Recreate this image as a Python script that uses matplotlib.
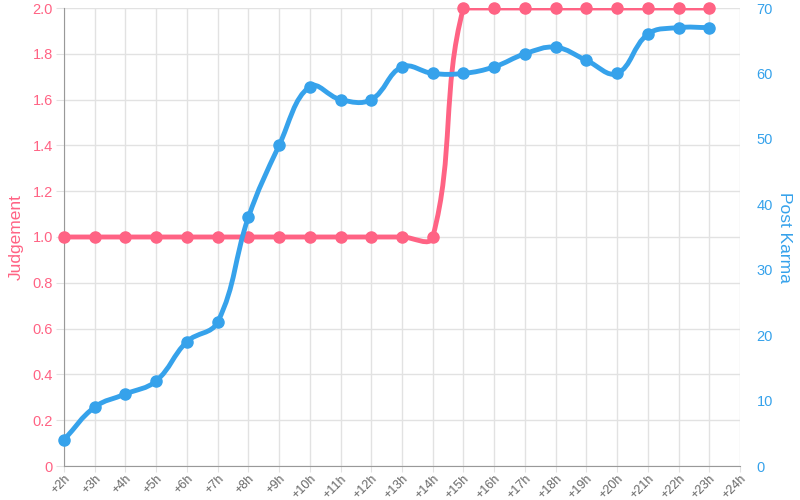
import numpy as np
import matplotlib.pyplot as plt
from matplotlib.path import Path
from matplotlib.patches import PathPatch

plt.rcParams['font.family'] = ['Liberation Sans', 'DejaVu Sans']

# data
hours = ['+%dh' % h for h in range(2, 25)]
judgement = [1, 1, 1, 1, 1, 1, 1, 1, 1, 1, 1, 1, 1, 2, 2, 2, 2, 2, 2, 2, 2, 2]
karma = [4, 9, 11, 13, 19, 22, 38, 49, 58, 56, 56, 61, 60, 60, 61, 63, 64, 62, 60, 66, 67, 67]

PINK = '#FF6384'
BLUE = '#36A2EB'


def spline_path(xs, ys, sx, sy, ylim, tension=0.4):
    # chart.js style bezier, control points computed in pixel space
    n = len(xs)
    px = np.array(xs, float) * sx
    py = np.array(ys, float) * sy
    prev_cp, next_cp = [], []
    for i in range(n):
        a = max(i - 1, 0)
        b = min(i + 1, n - 1)
        d01 = np.hypot(px[i] - px[a], py[i] - py[a])
        d12 = np.hypot(px[b] - px[i], py[b] - py[i])
        tot = d01 + d12 if d01 + d12 else 1
        fa = tension * d01 / tot
        fb = tension * d12 / tot
        dx, dy = px[b] - px[a], py[b] - py[a]
        prev_cp.append((px[i] - fa * dx, py[i] - fa * dy))
        next_cp.append((px[i] + fb * dx, py[i] + fb * dy))
    lo, hi = ylim[0] * sy, ylim[1] * sy
    verts = [(px[0], py[0])]
    codes = [Path.MOVETO]
    for i in range(n - 1):
        c1 = (next_cp[i][0], min(max(next_cp[i][1], lo), hi))
        c2 = (prev_cp[i + 1][0], min(max(prev_cp[i + 1][1], lo), hi))
        verts += [c1, c2, (px[i + 1], py[i + 1])]
        codes += [Path.CURVE4] * 3
    verts = [(x / sx, y / sy) for x, y in verts]
    return Path(verts, codes)


fig = plt.figure(figsize=(8, 5), dpi=100)
ax = fig.add_axes([0.08, 0.068, 0.845, 0.916])
ax2 = ax.twinx()

x = np.arange(len(judgement))
px_per_x = 676 / 22
ax.set_xlim(0, 22)
ax.set_ylim(0, 2.0)
ax2.set_ylim(0, 70)

p1 = spline_path(x, judgement, px_per_x, 229, (0, 2.0))
ax.add_patch(PathPatch(p1, fill=False, edgecolor=PINK, lw=3.5, zorder=3, capstyle='round'))
ax.plot(x, judgement, 'o', color=PINK, ms=8, zorder=4, clip_on=False)

p2 = spline_path(x, karma, px_per_x, 6.54, (0, 70))
ax2.add_patch(PathPatch(p2, fill=False, edgecolor=BLUE, lw=3.5, zorder=3, capstyle='round'))
ax2.plot(x, karma, 'o', color=BLUE, ms=8, zorder=4, clip_on=False)

ax.set_xticks(np.arange(23))
ax.set_xticklabels(hours, rotation=45, ha='right', va='top', rotation_mode='anchor',
                   fontsize=9, color='#666666')
ax.set_yticks(np.arange(0, 2.01, 0.2))
ax.set_yticklabels(['0'] + ['%.1f' % v for v in np.arange(0.2, 2.01, 0.2)], fontsize=10.5, color=PINK)
ax2.set_yticks(np.arange(0, 71, 10))
ax2.set_yticklabels([str(v) for v in range(0, 71, 10)], fontsize=10.5, color=BLUE)

ax.grid(True, color='#e2e2e2', lw=1)
ax.set_axisbelow(True)
ax.tick_params(axis='y', length=6, color='#e2e2e2', pad=2)
ax.tick_params(axis='x', length=4, color='#e2e2e2', pad=1)
ax2.tick_params(axis='y', length=0, pad=12)

for a in (ax, ax2):
    for s in a.spines.values():
        s.set_visible(False)
ax.spines['left'].set_visible(True)
ax.spines['bottom'].set_visible(True)
ax.spines['left'].set_color('#999999')
ax.spines['bottom'].set_color('#999999')

ax.set_ylabel('Judgement', color=PINK, fontsize=12.5, labelpad=6)
ax2.set_ylabel('Post Karma', color=BLUE, fontsize=12.5, rotation=270, labelpad=14)

fig.savefig('out.png', dpi=100)
